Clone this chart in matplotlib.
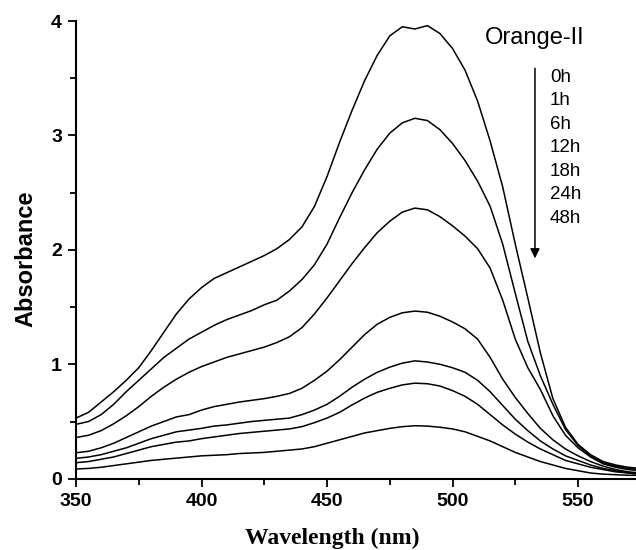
import numpy as np
import matplotlib
matplotlib.use("Agg")
import matplotlib.pyplot as plt
from matplotlib.ticker import MultipleLocator

wavelength = np.arange(350, 580, 5)

# absorbance, one list per irradiation time
abs_0h = [0.53, 0.58, 0.67, 0.76, 0.86, 0.97, 1.12, 1.28, 1.44, 1.57,
          1.67, 1.75, 1.80, 1.85, 1.90, 1.95, 2.01, 2.09, 2.20, 2.38,
          2.64, 2.94, 3.22, 3.48, 3.70, 3.87, 3.95, 3.93, 3.96, 3.89,
          3.76, 3.57, 3.30, 2.95, 2.55, 2.05, 1.58, 1.10, 0.70, 0.45,
          0.30, 0.21, 0.15, 0.12, 0.10, 0.09]
abs_1h = [0.475, 0.50, 0.56, 0.65, 0.76, 0.86, 0.96, 1.06, 1.14, 1.22,
          1.28, 1.34, 1.39, 1.43, 1.47, 1.52, 1.56, 1.64, 1.74, 1.87,
          2.05, 2.28, 2.50, 2.70, 2.88, 3.02, 3.11, 3.15, 3.13, 3.05,
          2.93, 2.78, 2.60, 2.38, 2.05, 1.62, 1.20, 0.90, 0.65, 0.43,
          0.29, 0.20, 0.14, 0.11, 0.09, 0.08]
abs_6h = [0.36, 0.38, 0.42, 0.48, 0.55, 0.63, 0.72, 0.80, 0.87, 0.93,
          0.98, 1.02, 1.06, 1.09, 1.12, 1.15, 1.19, 1.24, 1.32, 1.44,
          1.58, 1.73, 1.88, 2.02, 2.15, 2.25, 2.33, 2.365, 2.35, 2.29,
          2.21, 2.12, 2.01, 1.84, 1.56, 1.22, 0.97, 0.78, 0.55, 0.38,
          0.27, 0.19, 0.13, 0.10, 0.08, 0.07]
abs_12h = [0.227, 0.24, 0.27, 0.31, 0.36, 0.41, 0.46, 0.50, 0.54, 0.56,
           0.60, 0.63, 0.65, 0.67, 0.685, 0.70, 0.72, 0.745, 0.79, 0.86,
           0.94, 1.04, 1.15, 1.26, 1.35, 1.41, 1.45, 1.465, 1.455, 1.42,
           1.37, 1.31, 1.22, 1.06, 0.87, 0.71, 0.57, 0.44, 0.34, 0.26,
           0.20, 0.15, 0.11, 0.08, 0.06, 0.05]
abs_18h = [0.178, 0.19, 0.21, 0.24, 0.27, 0.31, 0.35, 0.38, 0.41, 0.425,
           0.44, 0.46, 0.47, 0.485, 0.50, 0.51, 0.52, 0.53, 0.56, 0.60,
           0.65, 0.72, 0.80, 0.87, 0.93, 0.975, 1.01, 1.03, 1.02, 1.00,
           0.97, 0.93, 0.86, 0.76, 0.64, 0.52, 0.42, 0.33, 0.26, 0.20,
           0.16, 0.12, 0.09, 0.07, 0.05, 0.04]
abs_24h = [0.14, 0.15, 0.17, 0.19, 0.22, 0.25, 0.28, 0.30, 0.32, 0.33,
           0.35, 0.365, 0.38, 0.395, 0.405, 0.415, 0.425, 0.435, 0.455, 0.49,
           0.53, 0.58, 0.645, 0.705, 0.755, 0.79, 0.82, 0.835, 0.83, 0.81,
           0.77, 0.72, 0.65, 0.56, 0.47, 0.39, 0.32, 0.26, 0.21, 0.16,
           0.13, 0.10, 0.08, 0.06, 0.05, 0.04]
abs_48h = [0.085, 0.09, 0.10, 0.115, 0.13, 0.145, 0.16, 0.17, 0.18, 0.19,
           0.20, 0.205, 0.21, 0.22, 0.225, 0.23, 0.24, 0.25, 0.26, 0.28,
           0.31, 0.34, 0.37, 0.40, 0.42, 0.44, 0.455, 0.463, 0.46, 0.45,
           0.435, 0.41, 0.37, 0.33, 0.28, 0.23, 0.19, 0.15, 0.12, 0.09,
           0.07, 0.05, 0.04, 0.035, 0.03, 0.03]

series = [abs_0h, abs_1h, abs_6h, abs_12h, abs_18h, abs_24h, abs_48h]
time_labels = ["0h", "1h", "6h", "12h", "18h", "24h", "48h"]
x_ticks = [350, 400, 450, 500, 550]
y_ticks = [0, 1, 2, 3, 4]

sans = "Liberation Sans"
serif = "Liberation Serif"

fig = plt.figure(figsize=(6.36, 5.5), dpi=100)
ax = fig.add_axes([0.1195, 0.1296, 0.8805, 0.8322])

for values in series:
    ax.plot(wavelength, values, color="black", lw=1.1)

ax.set_xlim(350, 573.1)
ax.set_ylim(0, 4)
ax.set_xticks(x_ticks)
ax.set_yticks(y_ticks)
ax.xaxis.set_minor_locator(MultipleLocator(25))
ax.yaxis.set_minor_locator(MultipleLocator(0.5))
ax.spines[["top", "right"]].set_visible(False)
for side in ["left", "bottom"]:
    ax.spines[side].set_linewidth(1.5)
ax.tick_params(which="major", direction="out", length=6, width=1.3, pad=4)
ax.tick_params(which="minor", direction="out", length=4.5, width=1.3)
for lab in ax.get_xticklabels() + ax.get_yticklabels():
    lab.set_fontfamily(sans)
    lab.set_fontweight("bold")
    lab.set_fontsize(14)

ax.set_ylabel("Absorbance", fontfamily=sans, fontweight="bold", fontsize=17)
ax.yaxis.set_label_coords(-0.069, 0.48)
ax.set_xlabel("Wavelength (nm)", fontfamily=serif, fontweight="bold", fontsize=17)
ax.xaxis.set_label_coords(0.458, -0.108)

# annotation: dye name, arrow and sampling times
ax.text(0.8196, 0.962, "Orange-II", transform=ax.transAxes, fontfamily=sans,
        fontsize=17, ha="center", va="center")
ax.annotate("", xy=(0.8196, 0.4815), xytext=(0.8196, 0.8966), xycoords="axes fraction",
            arrowprops=dict(arrowstyle="-|>", color="black", lw=1.1,
                            mutation_scale=14, shrinkA=0, shrinkB=0))
for i, lab in enumerate(time_labels):
    ax.text(0.8464, 0.8766 - i * 0.0513, lab, transform=ax.transAxes,
            fontfamily=sans, fontsize=13.5, ha="left", va="center")

fig.savefig("out.png", dpi=100)
